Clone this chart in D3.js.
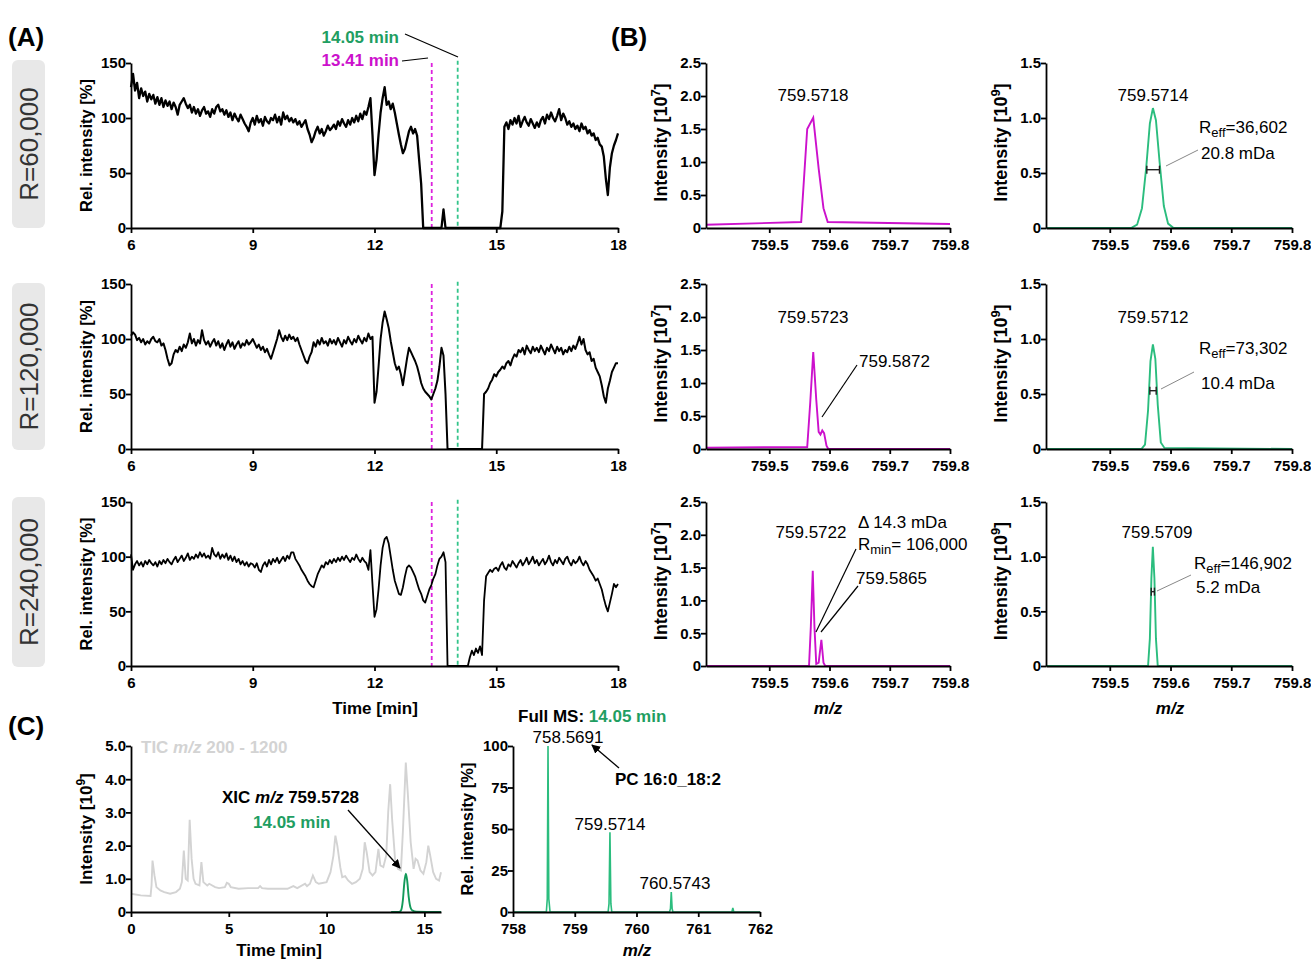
<!DOCTYPE html>
<html>
<head>
<meta charset="utf-8">
<script src="https://cdn.jsdelivr.net/npm/d3@7"></script>
<style>
body { margin: 0; background: #fff; }
svg { font-family: "Liberation Sans", Arial, sans-serif; }
.axis path, .axis line { stroke: #000; stroke-width: 1.8; }
.axis text { font-size: 15px; font-weight: bold; fill: #000; font-family: "Liberation Sans", Arial, sans-serif; }
</style>
</head>
<body>
<svg id="fig" width="1311" height="959"></svg>
<script>
// ---- data ----
// panel A: relative intensity, one value every 0.05 min from 6 to 18 min
const aStart = 6, aStep = 0.05;
const r60 = [
 128,140,125,132,118,127,120,124,115,122,117,121,113,119,112,118,110,116,111,115,
 108,114,110,103,112,115,118,113,109,112,105,110,104,108,102,107,110,104,106,101,
 108,104,110,112,106,108,103,107,101,105,98,104,100,97,103,99,95,92,88,96,
 100,94,102,96,99,93,101,97,95,100,98,103,96,101,94,105,99,102,97,100,
 96,99,94,97,92,95,98,90,85,78,82,88,92,86,90,84,88,93,89,91,
 94,90,97,93,99,95,92,98,94,100,96,102,97,104,99,106,103,110,118,85,
 48,62,85,105,118,128,112,115,108,113,105,95,85,76,68,72,80,88,92,86,
 90,84,62,40,0,0,0,0,0,0,0,0,0,0,17,0,0,0,0,0,
 0,0,0,0,0,0,0,0,0,0,0,0,0,0,0,0,0,0,0,0,
 0,0,0,15,92,96,90,98,94,100,95,102,92,97,101,96,93,99,95,91,
 96,92,98,101,95,103,99,105,100,97,102,108,98,104,100,94,97,92,95,90,
 93,88,95,90,92,86,89,84,86,80,82,76,74,65,45,30,55,68,75,80,
 86];
const r120 = [
 103,106,104,99,101,97,100,95,98,96,100,102,98,97,100,94,96,90,82,76,
 78,86,90,88,93,89,95,92,97,105,96,100,94,99,96,108,99,95,98,93,
 97,100,94,98,92,96,90,95,99,93,97,91,95,98,92,96,94,99,95,97,
 100,96,92,95,90,93,88,91,86,82,88,94,100,108,102,98,103,99,104,100,
 102,98,101,95,90,85,80,78,84,88,97,93,99,95,101,96,98,94,100,96,
 99,95,101,97,93,99,96,102,98,95,100,97,103,99,96,101,98,105,100,102,
 42,52,75,100,115,125,118,110,98,88,78,72,75,68,58,70,82,92,88,84,
 80,75,68,60,55,52,50,48,45,50,55,62,75,92,85,50,0,0,0,0,
 0,0,0,0,0,0,0,0,0,0,0,0,0,0,50,52,55,60,63,68,
 66,70,72,75,73,78,80,76,82,86,84,90,88,92,86,94,90,87,93,89,
 92,88,94,90,86,92,89,95,91,87,93,89,92,86,90,88,93,89,94,91,
 96,102,95,100,90,86,88,80,82,74,70,66,58,48,42,55,62,70,74,78,
 78];
const r240 = [
 102,88,93,96,92,95,91,96,93,97,94,92,95,91,96,93,97,94,98,95,
 93,97,100,95,98,101,96,99,103,97,100,98,102,99,104,100,103,99,101,98,
 108,102,100,104,98,102,99,103,97,101,96,100,95,98,93,96,92,95,91,94,
 93,90,94,88,86,92,95,91,97,93,98,95,99,94,97,100,96,101,98,104,
 104,98,95,92,88,85,82,78,75,73,72,78,84,88,92,90,95,93,97,94,
 98,95,99,96,100,97,101,98,95,99,97,102,98,95,99,96,94,88,106,75,
 45,52,70,92,108,116,118,112,100,88,78,72,66,65,72,82,90,92,90,86,
 82,76,70,66,60,58,64,70,74,80,84,92,98,100,104,95,0,0,0,0,
 0,0,0,0,0,0,0,8,14,10,16,12,18,10,60,82,85,88,86,89,
 90,87,92,95,90,88,93,91,96,93,90,94,97,92,95,99,93,96,100,94,
 97,92,95,98,93,96,101,95,92,97,94,99,96,93,98,100,95,92,97,94,
 96,100,95,92,96,93,88,85,82,78,80,75,70,62,55,50,58,66,75,72,
 75];
const rowLabels = ["R=60,000", "R=120,000", "R=240,000"];
const markTimes = [13.41, 14.05];
const aTicksX = [6, 9, 12, 15, 18];
const aTicksY = [0, 50, 100, 150];

// panel B: [m/z, intensity] profiles
const b60L = [[759.395,0.05],[759.553,0.09],[759.563,1.5],[759.573,1.67],[759.582,0.9],[759.59,0.3],[759.597,0.09],[759.8,0.06]];
const b60R = [[759.395,0],[759.535,0],[759.545,0.03],[759.553,0.18],[759.56,0.55],[759.566,0.95],[759.571,1.09],[759.576,0.98],[759.582,0.6],[759.589,0.2],[759.596,0.04],[759.605,0],[759.8,0]];
const b120L = [[759.395,0.02],[759.563,0.03],[759.568,0.7],[759.573,1.47],[759.578,0.75],[759.582,0.26],[759.585,0.22],[759.588,0.28],[759.591,0.24],[759.595,0.05],[759.598,0],[759.8,0]];
const b120R = [[759.395,0],[759.552,0],[759.558,0.04],[759.563,0.35],[759.567,0.8],[759.571,0.95],[759.575,0.82],[759.579,0.4],[759.584,0.06],[759.59,0.01],[759.8,0]];
const b240L = [[759.395,0],[759.566,0],[759.569,0.6],[759.5722,1.45],[759.575,0.6],[759.578,0.03],[759.582,0.05],[759.5865,0.4],[759.59,0.05],[759.593,0],[759.8,0]];
const b240R = [[759.395,0],[759.563,0],[759.566,0.25],[759.5685,0.8],[759.5709,1.09],[759.5735,0.8],[759.576,0.25],[759.579,0],[759.8,0]];
// FWHM bars: [from, to, height]
const fwhm = [[759.5610,759.5818,0.53],[759.5660,759.5764,0.53],[759.5683,759.5735,0.68]];
const bTicksX = [759.5, 759.6, 759.7, 759.8];
const bTicksL = [0, 0.5, 1.0, 1.5, 2.0, 2.5];
const bTicksR = [0, 0.5, 1.0, 1.5];

// panel C
const ticTrace = [[0,0.55],[0.5,0.5],[1.0,0.48],[1.05,0.8],[1.1,1.55],[1.2,1.1],[1.3,0.75],[1.5,0.65],[1.7,0.6],[2.0,0.55],
 [2.3,0.6],[2.5,0.7],[2.6,0.9],[2.7,1.85],[2.8,1.0],[2.9,0.95],[3.0,2.78],[3.1,1.6],[3.2,1.0],[3.3,0.85],
 [3.5,0.8],[3.6,1.5],[3.7,0.9],[3.9,0.8],[4.0,0.85],[4.3,0.75],[4.5,0.72],[4.8,0.75],[4.9,0.88],[5.0,0.85],
 [5.1,0.75],[5.5,0.7],[6.0,0.72],[6.5,0.72],[6.6,0.78],[6.7,0.72],[7.0,0.7],[7.5,0.7],[8.0,0.7],[8.3,0.78],
 [8.5,0.72],[8.9,0.85],[9.0,0.78],[9.15,0.85],[9.3,1.1],[9.45,0.9],[9.6,0.85],[10.0,0.9],[10.2,1.2],[10.35,1.7],
 [10.45,2.3],[10.55,2.0],[10.7,1.35],[10.8,1.05],[10.95,1.08],[11.1,0.95],[11.3,0.85],[11.5,0.9],[11.7,1.0],[11.85,1.3],
 [11.95,2.1],[12.05,1.8],[12.2,1.2],[12.35,1.1],[12.5,1.2],[12.65,1.9],[12.75,1.4],[12.9,1.35],[13.05,1.7],[13.15,3.0],
 [13.25,3.85],[13.35,2.8],[13.5,1.6],[13.65,1.3],[13.8,1.25],[13.9,2.4],[14.05,4.5],[14.15,3.6],[14.3,2.1],[14.45,1.3],
 [14.55,1.6],[14.65,1.55],[14.8,1.25],[14.95,1.15],[15.1,1.5],[15.2,2.0],[15.3,1.7],[15.45,1.2],[15.6,1.0],[15.75,0.95],[15.85,1.2]];
const xicTrace = [[13.3,0],[13.7,0],[13.8,0.04],[13.9,0.35],[13.97,0.85],[14.05,1.15],[14.12,0.95],[14.2,0.45],[14.3,0.12],[14.4,0.04],[14.6,0.01],[15.85,0]];
const fullMS = [[758,0],[758.54,0],[758.555,8],[758.567,100],[758.58,8],[758.6,0],[759.54,0],[759.555,5],[759.57,48],[759.585,5],[759.6,0],
 [760.535,0],[760.55,2],[760.563,12],[760.577,2],[760.59,0],[761.545,0],[761.56,2.5],[761.575,0],[762,0]];
const cTicksX1 = [0, 5, 10, 15];
const cTicksY1 = [0, 1, 2, 3, 4, 5];
const cTicksX2 = [758, 759, 760, 761, 762];
const cTicksY2 = [0, 25, 50, 75, 100];

// ---- drawing ----
const svg = d3.select("#fig");
const magenta = "#cc11cc", green = "#2bbd7e", greenText = "#1f9e62";

function panel(box, xDom, yDom, xTicks, yTicks, xFmt, yFmt) {
    let x = d3.scaleLinear().domain(xDom).range([box.left, box.right]);
    let y = d3.scaleLinear().domain(yDom).range([box.bottom, box.top]);
    let g = svg.append("g");
    let marks = g.append("g");
    g.append("g").attr("class", "axis")
        .attr("transform", "translate(0," + box.bottom + ")")
        .call(d3.axisBottom(x).tickValues(xTicks).tickFormat(xFmt).tickSize(5).tickSizeOuter(0))
        .selectAll("text").attr("dy", "0.95em");
    g.append("g").attr("class", "axis")
        .attr("transform", "translate(" + box.left + ",0)")
        .call(d3.axisLeft(y).tickValues(yTicks).tickFormat(yFmt).tickSize(5).tickSizeOuter(0))
        .selectAll("text").attr("dx", "0.2em");
    return {x: x, y: y, g: marks};
}

function text(x, y, str, opts) {
    opts = opts || {};
    let t = svg.append("text").attr("x", x).attr("y", y)
        .style("font-size", (opts.size || 17) + "px")
        .style("font-weight", opts.bold ? "bold" : "normal")
        .style("fill", opts.fill || "#000")
        .attr("text-anchor", opts.anchor || "start")
        .text(str);
    if (opts.italic) t.style("font-style", "italic");
    return t;
}

function rotLabel(cx, cy, parts, size) {
    let t = svg.append("text")
        .attr("transform", "translate(" + cx + "," + cy + ") rotate(-90)")
        .attr("text-anchor", "middle")
        .style("font-size", size + "px").style("font-weight", "bold");
    parts.forEach(function (p) {
        let s = t.append("tspan").text(p.t);
        if (p.sup) s.attr("dy", -7).style("font-size", (size - 5) + "px");
        if (p.down) s.attr("dy", 7);
    });
    return t;
}

function line(x1, y1, x2, y2, color, w) {
    svg.append("line").attr("x1", x1).attr("y1", y1).attr("x2", x2).attr("y2", y2)
        .attr("stroke", color || "#000").attr("stroke-width", w || 1.2);
}

// panel labels
text(8, 46, "(A)", {size: 26, bold: true});
text(611, 46, "(B)", {size: 26, bold: true});
text(8, 735, "(C)", {size: 26, bold: true});

// ---- panel A ----
const rowTop = [63, 284, 502], rowBottom = [228, 449, 666];
const aSeries = [r60, r120, r240];
const aWidth = [2.3, 2.0, 1.8];
const boxTop = [60, 283, 497], boxBottom = [228, 450, 667];

aSeries.forEach(function (vals, i) {
    let p = panel({left: 131, right: 618, top: rowTop[i], bottom: rowBottom[i]},
        [6, 18], [0, 150], aTicksX, aTicksY, d3.format("d"), d3.format("d"));

    // grey resolution tag
    svg.append("rect").attr("x", 12).attr("y", boxTop[i]).attr("width", 33)
        .attr("height", boxBottom[i] - boxTop[i]).attr("rx", 6).attr("fill", "#e8e8e8");
    svg.append("text")
        .attr("transform", "translate(38," + ((boxTop[i] + boxBottom[i]) / 2) + ") rotate(-90)")
        .attr("text-anchor", "middle").style("font-size", "26px").style("fill", "#333")
        .text(rowLabels[i]);

    rotLabel(92, (rowTop[i] + rowBottom[i]) / 2, [{t: "Rel. intensity [%]"}], 16.5);

    // dashed markers
    p.g.selectAll("line.mark").data(markTimes).enter().append("line")
        .attr("x1", d => p.x(d)).attr("x2", d => p.x(d))
        .attr("y1", (d, j) => p.y(j === 0 ? 150 : 152)).attr("y2", p.y(0))
        .attr("stroke", (d, j) => j === 0 ? "#dd22dd" : "#33c48a")
        .attr("stroke-width", 1.8).attr("stroke-dasharray", "4,3");

    let lg = d3.line().x((d, j) => p.x(aStart + j * aStep)).y(d => p.y(d));
    p.g.append("path").datum(vals).attr("d", lg)
        .attr("fill", "none").attr("stroke", "#000").attr("stroke-width", aWidth[i])
        .attr("stroke-linejoin", "round");
});

text(375, 714, "Time [min]", {size: 17, bold: true, anchor: "middle"});
text(399, 43, "14.05 min", {size: 17, bold: true, fill: greenText, anchor: "end"});
text(399, 66, "13.41 min", {size: 17, bold: true, fill: magenta, anchor: "end"});
line(405, 34, 458, 57, "#000", 1.2);
line(402, 61, 428, 58, "#000", 1.2);

// ---- panel B ----
const bLeft = [b60L, b120L, b240L], bRight = [b60R, b120R, b240R];

bLeft.forEach(function (spec, i) {
    let box = {left: 706, right: 950, top: rowTop[i], bottom: rowBottom[i]};
    let p = panel(box, [759.395, 759.8], [0, 2.5], bTicksX, bTicksL, d3.format(".1f"), d => d === 0 ? "0" : d3.format(".1f")(d));
    p.g.append("path").datum(spec)
        .attr("d", d3.line().x(d => p.x(d[0])).y(d => p.y(d[1])))
        .attr("fill", "none").attr("stroke", magenta).attr("stroke-width", 1.9);
    rotLabel(667, (box.top + box.bottom) / 2 - 3, [{t: "Intensity [10"}, {t: "7", sup: true}, {t: "]", down: true}], 18);
});

bRight.forEach(function (spec, i) {
    let box = {left: 1046, right: 1292, top: rowTop[i], bottom: rowBottom[i]};
    let p = panel(box, [759.395, 759.8], [0, 1.5], bTicksX, bTicksR, d3.format(".1f"), d => d === 0 ? "0" : d3.format(".1f")(d));
    p.g.append("path").datum(spec)
        .attr("d", d3.line().x(d => p.x(d[0])).y(d => p.y(d[1])))
        .attr("fill", "none").attr("stroke", green).attr("stroke-width", 1.9);
    // FWHM bar with end caps
    let f = fwhm[i];
    let yb = p.y(f[2]);
    p.g.append("line").attr("x1", p.x(f[0])).attr("x2", p.x(f[1])).attr("y1", yb).attr("y2", yb)
        .attr("stroke", "#222").attr("stroke-width", 1.4);
    [f[0], f[1]].forEach(function (m) {
        p.g.append("line").attr("x1", p.x(m)).attr("x2", p.x(m)).attr("y1", yb - 4).attr("y2", yb + 4)
            .attr("stroke", "#222").attr("stroke-width", 1.4);
    });
    rotLabel(1007, (box.top + box.bottom) / 2 - 3, [{t: "Intensity [10"}, {t: "9", sup: true}, {t: "]", down: true}], 18);
});

text(828, 714, "m/z", {size: 17, bold: true, italic: true, anchor: "middle"});
text(1170, 714, "m/z", {size: 17, bold: true, italic: true, anchor: "middle"});

// B annotations
function reff(x, y, val) {
    let t = text(x, y, "R", {size: 17});
    t.append("tspan").attr("dy", 4).style("font-size", "13px").text("eff");
    t.append("tspan").attr("dy", -4).text("=" + val);
}
text(813, 101, "759.5718", {anchor: "middle"});
text(1153, 101, "759.5714", {anchor: "middle"});
reff(1199, 133, "36,602");
text(1201, 159, "20.8 mDa");
line(1166, 166, 1198, 150, "#888", 1);

text(813, 323, "759.5723", {anchor: "middle"});
text(859, 367, "759.5872");
line(822, 417, 857, 365, "#000", 1.2);
text(1153, 323, "759.5712", {anchor: "middle"});
reff(1199, 354, "73,302");
text(1201, 389, "10.4 mDa");
line(1161, 389, 1194, 372, "#888", 1);

text(811, 538, "759.5722", {anchor: "middle"});
text(858, 528, "\u0394 14.3 mDa");
let rm = text(858, 550, "R", {size: 17});
rm.append("tspan").attr("dy", 4).style("font-size", "13px").text("min");
rm.append("tspan").attr("dy", -4).text("= 106,000");
text(856, 584, "759.5865");
line(816, 632, 856, 549, "#000", 1.2);
line(821, 632, 858, 586, "#000", 1.2);
text(1157, 538, "759.5709", {anchor: "middle"});
reff(1194, 569, "146,902");
text(1196, 593, "5.2 mDa");
line(1157, 591, 1191, 575, "#888", 1);

// ---- panel C left: TIC / XIC ----
let c1 = panel({left: 131, right: 441, top: 746, bottom: 912}, [0, 15.85], [0, 5],
    cTicksX1, cTicksY1, d3.format("d"), d => d === 0 ? "0" : d3.format(".1f")(d));
c1.g.append("path").datum(ticTrace)
    .attr("d", d3.line().x(d => c1.x(d[0])).y(d => c1.y(d[1])))
    .attr("fill", "none").attr("stroke", "#d3d3d3").attr("stroke-width", 1.9);
c1.g.append("path").datum(xicTrace)
    .attr("d", d3.line().x(d => c1.x(d[0])).y(d => c1.y(d[1])).curve(d3.curveMonotoneX))
    .attr("fill", "none").attr("stroke", "#139a5a").attr("stroke-width", 1.9);
rotLabel(92, 829, [{t: "Intensity [10"}, {t: "9", sup: true}, {t: "]", down: true}], 17);
text(279, 956, "Time [min]", {size: 17, bold: true, anchor: "middle"});
let tic = text(141, 753, "TIC ", {size: 17, bold: true, fill: "#d3d3d3"});
tic.append("tspan").style("font-style", "italic").text("m/z");
tic.append("tspan").text(" 200 - 1200");
let xic = text(222, 803, "XIC ", {size: 17, bold: true});
xic.append("tspan").style("font-style", "italic").text("m/z");
xic.append("tspan").text(" 759.5728");
text(253, 828, "14.05 min", {size: 17, bold: true, fill: greenText});

// arrows
svg.append("defs").append("marker").attr("id", "arrow").attr("viewBox", "0 0 10 10")
    .attr("refX", 9).attr("refY", 5).attr("markerWidth", 9).attr("markerHeight", 9)
    .attr("orient", "auto").attr("markerUnits", "userSpaceOnUse")
    .append("path").attr("d", "M0,0 L10,5 L0,10 z").attr("fill", "#000");
svg.append("line").attr("x1", 348).attr("y1", 810).attr("x2", 400).attr("y2", 868)
    .attr("stroke", "#000").attr("stroke-width", 1.3).attr("marker-end", "url(#arrow)");

// ---- panel C right: full MS ----
let c2 = panel({left: 513, right: 760, top: 746, bottom: 912}, [758, 762], [0, 100],
    cTicksX2, cTicksY2, d3.format("d"), d3.format("d"));
c2.g.append("path").datum(fullMS)
    .attr("d", d3.line().x(d => c2.x(d[0])).y(d => c2.y(d[1])))
    .attr("fill", "none").attr("stroke", green).attr("stroke-width", 1.6);
rotLabel(473, 829, [{t: "Rel. intensity [%]"}], 16.5);
text(637, 956, "m/z", {size: 17, bold: true, italic: true, anchor: "middle"});
let fm = text(518, 722, "Full MS: ", {size: 17, bold: true});
fm.append("tspan").style("fill", greenText).text("14.05 min");
text(568, 743, "758.5691", {anchor: "middle"});
text(610, 830, "759.5714", {anchor: "middle"});
text(675, 889, "760.5743", {anchor: "middle"});
text(615, 785, "PC 16:0_18:2", {size: 17, bold: true});
svg.append("line").attr("x1", 619).attr("y1", 768).attr("x2", 592).attr("y2", 745)
    .attr("stroke", "#000").attr("stroke-width", 1.3).attr("marker-end", "url(#arrow)");
</script>
</body>
</html>
